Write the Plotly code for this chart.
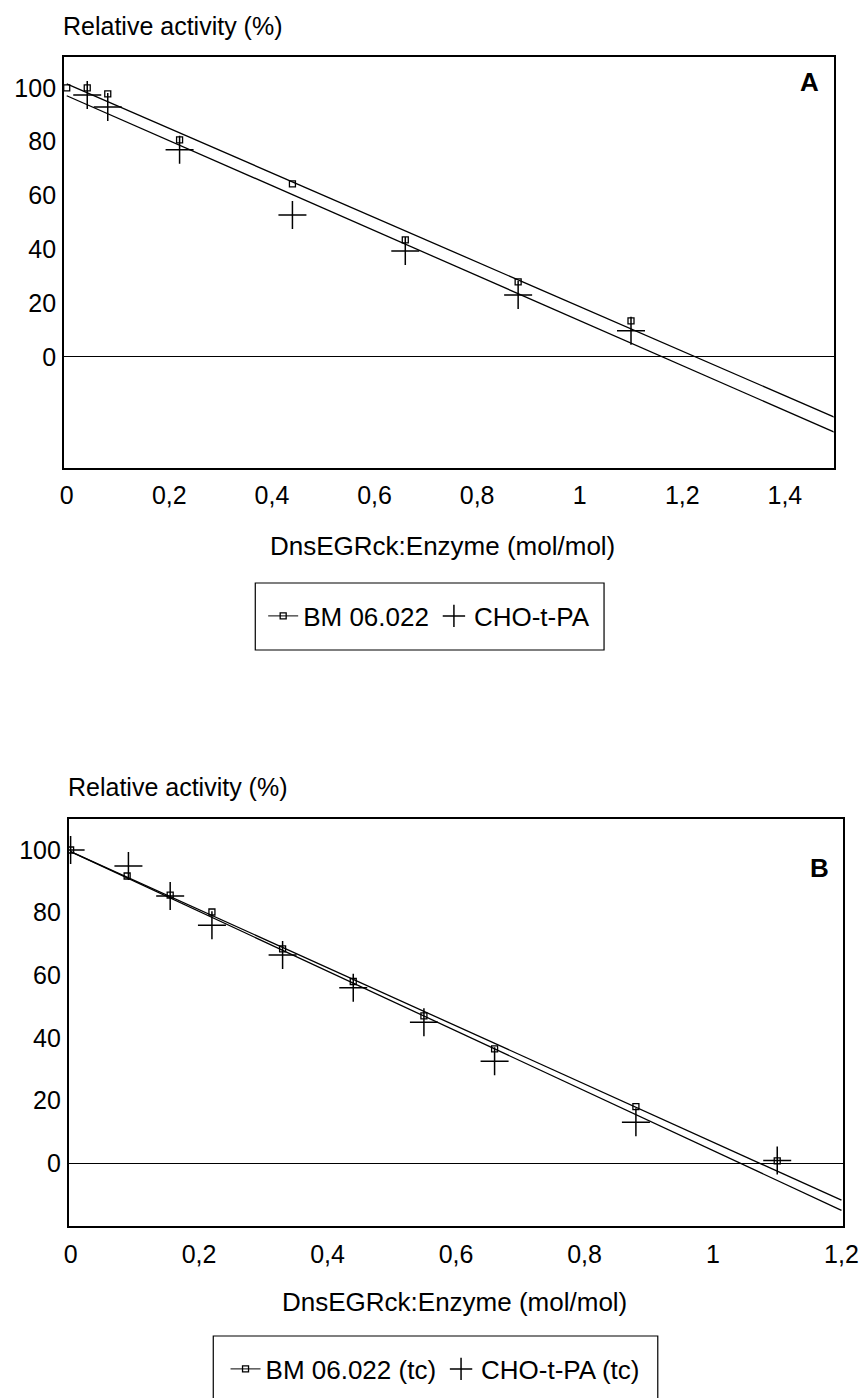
import plotly.graph_objects as go

# ---------------- data ----------------
# Panel A
a_x_bm = [0, 0.04, 0.08, 0.22, 0.44, 0.66, 0.88, 1.10]
a_y_bm = [100, 100, 97.8, 80.7, 64.3, 43.5, 27.9, 13.4]
a_x_cho = [0.04, 0.08, 0.22, 0.44, 0.66, 0.88, 1.10]
a_y_cho = [97.4, 92.9, 77.0, 52.8, 39.4, 23.0, 9.7]
a_fit_bm = (101.5, -82.8)    # intercept, slope
a_fit_cho = (97.1, -83.6)
a_fit_x = [0, 1.5]
a_xticks = [0, 0.2, 0.4, 0.6, 0.8, 1.0, 1.2, 1.4]
a_xlabels = ["0", "0,2", "0,4", "0,6", "0,8", "1", "1,2", "1,4"]

# Panel B
b_x_bm = [0, 0.088, 0.155, 0.22, 0.33, 0.44, 0.55, 0.66, 0.88, 1.10]
b_y_bm = [100, 91.7, 85.6, 80.2, 68.4, 58.0, 47.0, 36.5, 18.0, 0.7]
b_x_cho = [0, 0.09, 0.155, 0.22, 0.33, 0.44, 0.55, 0.66, 0.88, 1.10]
b_y_cho = [100, 94.9, 85.3, 76.0, 66.5, 56.0, 45.0, 32.5, 13.0, 0.8]
b_fit_bm = (99.5, -92.8)
b_fit_cho = (99.5, -95.5)
b_fit_x = [0, 1.2]
b_xticks = [0, 0.2, 0.4, 0.6, 0.8, 1.0, 1.2]
b_xlabels = ["0", "0,2", "0,4", "0,6", "0,8", "1", "1,2"]

yticks = [0, 20, 40, 60, 80, 100]
ylabels = ["0", "20", "40", "60", "80", "100"]

names_a = ["BM 06.022", "CHO-t-PA"]
names_b = ["BM 06.022 (tc)", "CHO-t-PA (tc)"]

# ---------------- figure ----------------
W, H = 867, 1398
FONT = "Liberation Sans, Arial, Helvetica, sans-serif"
fig = go.Figure()

sq = dict(symbol="square-open", size=6, color="black", line=dict(color="black", width=1.3))
cr = dict(symbol="cross-thin-open", size=20, color="black", line=dict(color="black", width=1.5))
fitline = dict(color="black", width=1.3)


def add_panel(xa, ya, xbm, ybm, xcho, ycho, fbm, fcho, fx, names, legend):
    fig.add_trace(go.Scatter(x=fx, y=[fbm[0] + fbm[1] * v for v in fx], mode="lines",
                             line=fitline, xaxis=xa, yaxis=ya, showlegend=False, hoverinfo="skip"))
    fig.add_trace(go.Scatter(x=fx, y=[fcho[0] + fcho[1] * v for v in fx], mode="lines",
                             line=fitline, xaxis=xa, yaxis=ya, showlegend=False, hoverinfo="skip"))
    fig.add_trace(go.Scatter(x=xcho, y=ycho, mode="markers", marker=cr,
                             xaxis=xa, yaxis=ya, showlegend=False))
    fig.add_trace(go.Scatter(x=xbm, y=ybm, mode="markers", marker=sq,
                             xaxis=xa, yaxis=ya, showlegend=False))
    # legend entries
    fig.add_trace(go.Scatter(x=[None], y=[None], mode="lines+markers", name=names[0],
                             marker=sq, line=dict(color="black", width=1),
                             xaxis=xa, yaxis=ya, legend=legend))
    fig.add_trace(go.Scatter(x=[None], y=[None], mode="markers", name=names[1],
                             marker=dict(symbol="cross-thin-open", size=16, color="black",
                                         line=dict(color="black", width=1.5)),
                             xaxis=xa, yaxis=ya, legend=legend))


add_panel("x", "y", a_x_bm, a_y_bm, a_x_cho, a_y_cho, a_fit_bm, a_fit_cho, a_fit_x, names_a, "legend")
add_panel("x2", "y2", b_x_bm, b_y_bm, b_x_cho, b_y_cho, b_fit_bm, b_fit_cho, b_fit_x, names_b, "legend2")


def px_x(p):
    return p / W


def px_y(p):
    return 1 - p / H


axis_common = dict(showgrid=False, showline=True, mirror=True, linecolor="black", linewidth=1.5,
                   ticks="", tickfont=dict(family=FONT, size=25, color="black"), fixedrange=True)

fig.update_layout(
    width=W, height=H, margin=dict(l=0, r=0, t=0, b=0),
    paper_bgcolor="white", plot_bgcolor="white",
    font=dict(family=FONT, color="black", size=25),
    xaxis=dict(domain=[px_x(52), px_x(840)], anchor="y", range=[-0.0057, 1.495],
               tickvals=a_xticks, ticktext=a_xlabels, zeroline=False, ticklabelstandoff=4, **axis_common),
    yaxis=dict(domain=[px_y(460), px_y(49)], anchor="x", range=[-41.3, 111.5],
               tickvals=yticks, ticktext=ylabels, zeroline=True, zerolinecolor="black",
               zerolinewidth=1, ticklabelstandoff=1, **axis_common),
    xaxis2=dict(domain=[px_x(57), px_x(850)], anchor="y2", range=[-0.003, 1.203],
                tickvals=b_xticks, ticktext=b_xlabels, zeroline=False, ticklabelstandoff=5, **axis_common),
    yaxis2=dict(domain=[px_y(1218), px_y(811)], anchor="x2", range=[-20.1, 109.9],
                tickvals=yticks, ticktext=ylabels, zeroline=True, zerolinecolor="black",
                zerolinewidth=1, ticklabelstandoff=1, **axis_common),
    legend=dict(orientation="h", x=px_x(426), xanchor="center", y=px_y(608), yanchor="middle",
                font=dict(family=FONT, size=26, color="black"), bgcolor="rgba(0,0,0,0)",
                borderwidth=0, itemwidth=30),
    legend2=dict(orientation="h", x=px_x(432), xanchor="center", y=px_y(1361), yanchor="middle",
                 font=dict(family=FONT, size=26, color="black"), bgcolor="rgba(0,0,0,0)",
                 borderwidth=0, itemwidth=30),
    showlegend=True,
)

# legend frames
for x0, x1, y0, y1 in [(248, 605, 575, 642), (205, 660, 1328, 1396)]:
    fig.add_shape(type="rect", xref="paper", yref="paper",
                  x0=px_x(x0), x1=px_x(x1), y0=px_y(y1), y1=px_y(y0),
                  line=dict(color="black", width=1.2), fillcolor="rgba(0,0,0,0)")

ann = [
    dict(text="Relative activity (%)", x=px_x(49), y=px_y(18), xanchor="left", yanchor="middle", size=25, bold=False),
    dict(text="Relative activity (%)", x=px_x(54), y=px_y(779), xanchor="left", yanchor="middle", size=25, bold=False),
    dict(text="DnsEGRck:Enzyme (mol/mol)", x=px_x(440), y=px_y(538), xanchor="center", yanchor="middle", size=26, bold=False),
    dict(text="DnsEGRck:Enzyme (mol/mol)", x=px_x(452), y=px_y(1294), xanchor="center", yanchor="middle", size=26, bold=False),
    dict(text="A", x=px_x(815), y=px_y(74), xanchor="center", yanchor="middle", size=26, bold=True),
    dict(text="B", x=px_x(826), y=px_y(860), xanchor="center", yanchor="middle", size=26, bold=True),
]
for a in ann:
    fig.add_annotation(text=("<b>%s</b>" % a["text"]) if a["bold"] else a["text"],
                       x=a["x"], y=a["y"], xref="paper", yref="paper",
                       xanchor=a["xanchor"], yanchor=a["yanchor"], showarrow=False,
                       font=dict(family=FONT, size=a["size"], color="black"))

fig.write_html("out.html")
